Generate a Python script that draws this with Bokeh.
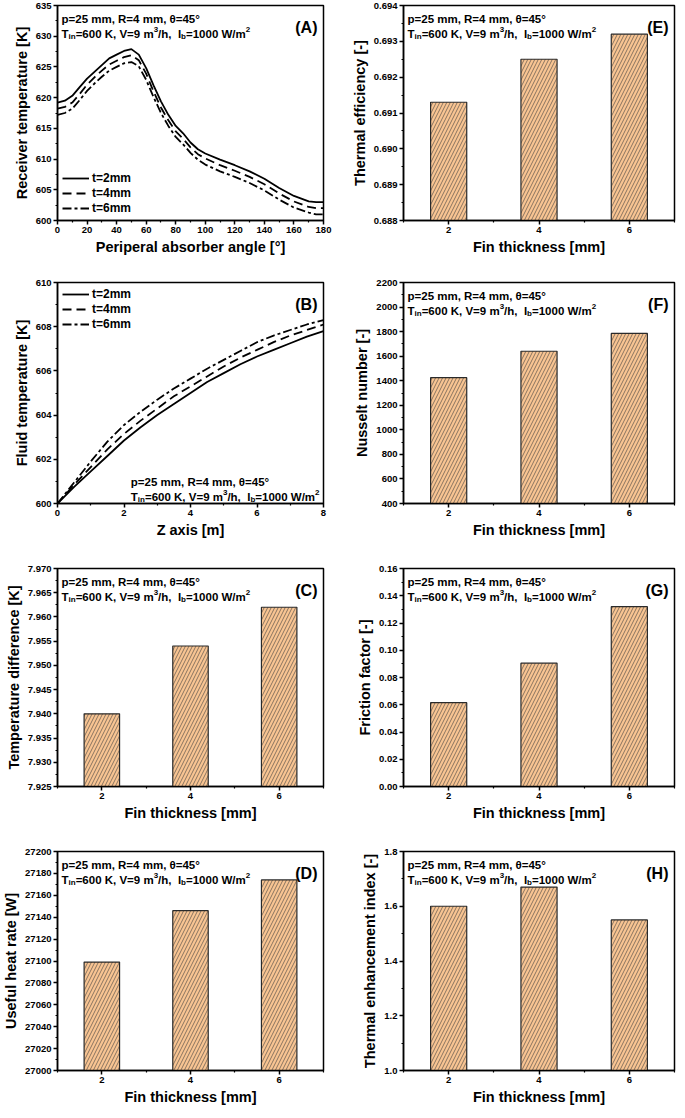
from bokeh.plotting import figure
from bokeh.layouts import gridplot
from bokeh.models import Range1d, FixedTicker, NumeralTickFormatter, Label
from bokeh.embed import file_html
from bokeh.resources import INLINE

FONT = "Liberation Sans"

# ---------------- data ----------------
angle_deg = [0, 5, 10, 15, 20, 25, 30, 35, 40, 45, 50, 55, 60, 65, 70, 75, 80, 85, 90,
             95, 100, 110, 120, 130, 140, 150, 160, 170, 175, 180]
recv_t2 = [619.2, 619.5, 620.3, 621.7, 623.1, 624.2, 625.3, 626.4, 627.0, 627.6, 627.9, 627.0,
           624.8, 622.0, 619.4, 617.2, 615.4, 614.2, 612.7, 611.6, 610.9, 609.9, 609.0, 608.0,
           606.8, 605.3, 604.0, 603.1, 603.0, 603.0]
recv_t4 = [618.2, 618.5, 619.2, 620.6, 622.1, 623.3, 624.4, 625.4, 626.0, 626.6, 626.9, 626.1,
           623.9, 621.0, 618.4, 616.3, 614.5, 613.3, 611.9, 610.8, 610.1, 609.0, 608.1, 607.1,
           605.9, 604.4, 603.1, 602.2, 602.0, 602.0]
recv_t6 = [617.2, 617.5, 618.2, 619.6, 621.1, 622.3, 623.4, 624.4, 625.0, 625.6, 625.8, 625.1,
           622.9, 620.1, 617.5, 615.4, 613.6, 612.4, 611.0, 609.9, 609.1, 608.0, 607.1, 606.1,
           604.9, 603.4, 602.1, 601.3, 601.0, 601.0]

z_m = [0, 0.5, 1, 1.5, 2, 2.5, 3, 3.5, 4, 4.5, 5, 5.5, 6, 6.5, 7, 7.5, 8]
fluid_t2 = [600, 600.75, 601.45, 602.15, 602.85, 603.45, 604.0, 604.5, 605.0, 605.5, 605.9,
            606.3, 606.65, 606.95, 607.25, 607.55, 607.8]
fluid_t4 = [600, 600.85, 601.65, 602.45, 603.15, 603.75, 604.3, 604.85, 605.3, 605.75, 606.2,
            606.6, 606.95, 607.3, 607.6, 607.85, 608.1]
fluid_t6 = [600, 600.95, 601.9, 602.8, 603.55, 604.15, 604.7, 605.2, 605.65, 606.1, 606.5,
            606.9, 607.3, 607.6, 607.85, 608.1, 608.3]

series_labels = ["t=2mm", "t=4mm", "t=6mm"]

fin_thickness = [2, 4, 6]
temp_diff = [7.940, 7.954, 7.962]
heat_rate = [27099, 27146, 27174]
thermal_eff = [0.6913, 0.6925, 0.6932]
nusselt = [1425, 1640, 1785]
friction = [0.0615, 0.0905, 0.132]
tei = [1.60, 1.67, 1.55]

# tick labels
A_XTICKS = [0, 20, 40, 60, 80, 100, 120, 140, 160, 180]
A_YTICKS = [600, 605, 610, 615, 620, 625, 630, 635]
B_XTICKS = [0, 2, 4, 6, 8]
B_YTICKS = [600, 602, 604, 606, 608, 610]
FIN_XTICKS = [2, 4, 6]
C_YTICKS = [7.925, 7.930, 7.935, 7.940, 7.945, 7.950, 7.955, 7.960, 7.965, 7.970]
D_YTICKS = [27000, 27020, 27040, 27060, 27080, 27100, 27120, 27140, 27160, 27180, 27200]
E_YTICKS = [0.688, 0.689, 0.690, 0.691, 0.692, 0.693, 0.694]
F_YTICKS = [400, 600, 800, 1000, 1200, 1400, 1600, 1800, 2000, 2200]
G_YTICKS = [0.00, 0.02, 0.04, 0.06, 0.08, 0.10, 0.12, 0.14, 0.16]
H_YTICKS = [1.0, 1.2, 1.4, 1.6, 1.8]

# ---------------- helpers ----------------
WID = {' ': 278, '\u00a0': 278, ',': 278, '.': 278, '/': 278, '=': 584, '[': 333, ']': 333,
       '(': 333, ')': 333, '°': 400, 'θ': 611, 'A': 722, 'B': 722, 'C': 722, 'D': 722,
       'E': 667, 'F': 611, 'G': 778, 'H': 722, 'I': 278, 'K': 722, 'R': 722, 'T': 611,
       'V': 667, 'W': 944, 'b': 611, 'h': 611, 'i': 278, 'm': 889, 'n': 611, 'p': 611}


def tw(s, size):
    return sum(WID.get(c, 556) for c in s) * size / 1000.0


def mids(t):
    return [(a + b) / 2 for a, b in zip(t[:-1], t[1:])]


def make_fig(w, h, xt, yt, xr, xminor, yfmt, xlabel, ylabel, mt, mb, mr):
    p = figure(width=w, height=h, x_range=Range1d(*xr), y_range=Range1d(yt[0], yt[-1]),
               output_backend="svg", toolbar_location=None,
               min_border_left=0, min_border_right=mr, min_border_top=mt, min_border_bottom=mb)
    p.xgrid.visible = False
    p.ygrid.visible = False
    p.outline_line_color = "black"
    p.outline_line_width = 1.5
    p.outline_line_alpha = 1
    p.background_fill_color = "white"
    p.border_fill_color = "white"
    p.xaxis.ticker = FixedTicker(ticks=xt, minor_ticks=xminor)
    p.yaxis.ticker = FixedTicker(ticks=yt, minor_ticks=mids(yt))
    p.xaxis.formatter = NumeralTickFormatter(format="0")
    p.yaxis.formatter = NumeralTickFormatter(format=yfmt)
    p.xaxis.axis_label = xlabel
    p.yaxis.axis_label = ylabel
    for ax in (p.xaxis[0], p.yaxis[0]):
        ax.axis_line_width = 1.5
        ax.axis_line_color = "black"
        ax.major_tick_line_width = 1.5
        ax.major_tick_line_color = "black"
        ax.minor_tick_line_width = 1.2
        ax.minor_tick_line_color = "black"
        ax.major_tick_in = 0
        ax.major_tick_out = 4
        ax.minor_tick_in = 0
        ax.minor_tick_out = 2
        ax.major_label_text_font = FONT
        ax.major_label_text_font_style = "bold"
        ax.major_label_text_font_size = "9.5px"
        ax.major_label_text_color = "black"
        ax.major_label_standoff = 2
        ax.axis_label_text_font = FONT
        ax.axis_label_text_font_style = "bold"
        ax.axis_label_text_font_size = "14.5px"
        ax.axis_label_text_color = "black"
        ax.axis_label_standoff = 3
    return p


def lbl(p, x, y, text, dx, dy, size, align="left"):
    p.add_layout(Label(x=x, y=y, x_units="data", y_units="data", text=text,
                       x_offset=dx, y_offset=dy, text_font=FONT, text_font_style="bold",
                       text_font_size=f"{size}px", text_color="black",
                       text_align=align, text_baseline="alphabetic"))


LINE2 = [("T", "m"), ("in", "sub"), ("=600 K, V=9 m", "m"), ("3", "sup"),
         ("/h,\u00a0\u00a0I", "m"), ("b", "sub"), ("=1000 W/m", "m"), ("2", "sup")]
LINE1 = "p=25 mm, R=4 mm, θ=45°"


def annotate(p, letter, corner="top_left"):
    big, small = 11.5, 8
    total = sum(tw(s, big if k == "m" else small) for s, k in LINE2)
    if corner == "top_left":
        ax, ay = p.x_range.start, p.y_range.end
        x0 = 4
        b1, b2 = -13, -28
    else:
        ax, ay = p.x_range.end, p.y_range.start
        x0 = -4 - total
        b1, b2 = 22, 7
    lbl(p, ax, ay, LINE1, x0, b1, big)
    x = x0
    for s, k in LINE2:
        size = big if k == "m" else small
        dy = b2 + (0 if k == "m" else (-3 if k == "sub" else 4.5))
        lbl(p, ax, ay, s, x, dy, size)
        x += tw(s, size)
    lbl(p, p.x_range.end, p.y_range.end, letter, -6, -22, 16, align="right")


BAR_FILL = "#F8C492"


def bars(p, vals, y0):
    p.vbar(x=fin_thickness, top=vals, bottom=y0, width=0.8, fill_color=BAR_FILL,
           line_color="#2a2a2a", line_width=1.2, hatch_pattern="/", hatch_color="#3c3c3c",
           hatch_scale=7, hatch_weight=0.6)


def lines(p, x, ys):
    dashes = ["solid", "9 5", "9 3 3 3"]
    for y, lab, d in zip(ys, series_labels, dashes):
        p.line(x, y, line_color="black", line_width=1.8, line_dash=d, legend_label=lab)
    lg = p.legend[0]
    lg.border_line_alpha = 0
    lg.background_fill_alpha = 0
    lg.label_text_font = FONT
    lg.label_text_font_style = "bold"
    lg.label_text_font_size = "12px"
    lg.label_text_color = "black"
    lg.glyph_width = 27
    lg.glyph_height = 14
    lg.label_height = 14
    lg.label_standoff = 3
    lg.spacing = 1
    lg.padding = 2
    lg.margin = 3


# ---------------- layout ----------------
LW, RW = 348, 328
rows = [(260, 5, 40), (282, 22, 39), (282, 26, 38), (284, 27, 38)]
FIN = "Fin thickness [mm]"
FIN_RANGE = (fin_thickness[0] - 1, fin_thickness[-1] + 1)
FIN_MINOR = [FIN_RANGE[0]] + mids(fin_thickness) + [FIN_RANGE[1]]

# A
h, t, b = rows[0]
pA = make_fig(LW, h, A_XTICKS, A_YTICKS, (A_XTICKS[0], A_XTICKS[-1]), mids(A_XTICKS), "0",
              "Periperal absorber angle [°]", "Receiver temperature [K]", t, b, 25)
lines(pA, angle_deg, [recv_t2, recv_t4, recv_t6])
pA.legend[0].location = "bottom_left"
annotate(pA, "(A)")

# E
pE = make_fig(RW, h, FIN_XTICKS, E_YTICKS, FIN_RANGE, FIN_MINOR, "0.000", FIN,
              "Thermal efficiency [-]", t, b, 2)
bars(pE, thermal_eff, E_YTICKS[0])
annotate(pE, "(E)")

# B
h, t, b = rows[1]
pB = make_fig(LW, h, B_XTICKS, B_YTICKS, (B_XTICKS[0], B_XTICKS[-1]), mids(B_XTICKS), "0",
              "Z axis [m]", "Fluid temperature [K]", t, b, 25)
lines(pB, z_m, [fluid_t2, fluid_t4, fluid_t6])
pB.legend[0].location = "top_left"
annotate(pB, "(B)", corner="bottom_right")

# F
pF = make_fig(RW, h, FIN_XTICKS, F_YTICKS, FIN_RANGE, FIN_MINOR, "0", FIN,
              "Nusselt number [-]", t, b, 2)
bars(pF, nusselt, F_YTICKS[0])
annotate(pF, "(F)")

# C
h, t, b = rows[2]
pC = make_fig(LW, h, FIN_XTICKS, C_YTICKS, FIN_RANGE, FIN_MINOR, "0.000", FIN,
              "Temperature difference [K]", t, b, 25)
bars(pC, temp_diff, C_YTICKS[0])
annotate(pC, "(C)")

# G
pG = make_fig(RW, h, FIN_XTICKS, G_YTICKS, FIN_RANGE, FIN_MINOR, "0.00", FIN,
              "Friction factor [-]", t, b, 2)
bars(pG, friction, G_YTICKS[0])
annotate(pG, "(G)")

# D
h, t, b = rows[3]
pD = make_fig(LW, h, FIN_XTICKS, D_YTICKS, FIN_RANGE, FIN_MINOR, "0", FIN,
              "Useful heat rate [W]", t, b, 25)
bars(pD, heat_rate, D_YTICKS[0])
annotate(pD, "(D)")

# H
pH = make_fig(RW, h, FIN_XTICKS, H_YTICKS, FIN_RANGE, FIN_MINOR, "0.0", FIN,
              "Thermal enhancement index [-]", t, b, 2)
bars(pH, tei, H_YTICKS[0])
annotate(pH, "(H)")

grid = gridplot([[pA, pE], [pB, pF], [pC, pG], [pD, pH]], toolbar_location=None)
open("out.html", "w").write(file_html(grid, INLINE))
